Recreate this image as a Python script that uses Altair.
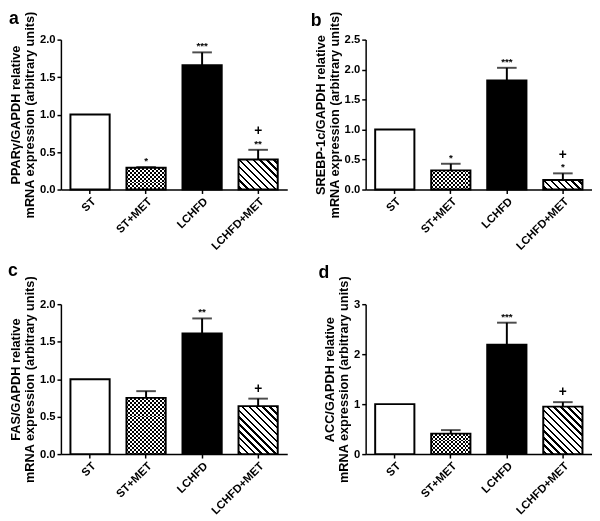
import altair as alt
import pandas as pd

groups = ["ST", "ST+MET", "LCHFD", "LCHFD+MET"]

ppar_mean = [1.00, 0.29, 1.66, 0.40]
ppar_upper = [None, 0.30, 1.83, 0.53]
ppar_stars = ["", "*", "***", "**"]
ppar_plus = ["", "", "", "+"]
ppar_ticks = [0.0, 0.5, 1.0, 1.5, 2.0]

srebp_mean = [1.00, 0.32, 1.82, 0.16]
srebp_upper = [None, 0.43, 2.03, 0.27]
srebp_stars = ["", "*", "***", "*"]
srebp_plus = ["", "", "", "+"]
srebp_ticks = [0.0, 0.5, 1.0, 1.5, 2.0, 2.5]

fas_mean = [1.00, 0.75, 1.61, 0.64]
fas_upper = [None, 0.84, 1.81, 0.74]
fas_stars = ["", "", "**", ""]
fas_plus = ["", "", "", "+"]
fas_ticks = [0.0, 0.5, 1.0, 1.5, 2.0]

acc_mean = [1.00, 0.41, 2.19, 0.95]
acc_upper = [None, 0.48, 2.63, 1.04]
acc_stars = ["", "", "***", ""]
acc_plus = ["", "", "", "+"]
acc_ticks = [0, 1, 2, 3]

FONT = "Liberation Sans"
W, H = 231, 153
PAD_IN, PAD_OUT = 0.30, 0.17
STEP = W / (len(groups) - PAD_IN + 2 * PAD_OUT)
BW = STEP * (1 - PAD_IN)


def stop(o, c):
    return alt.GradientStop(offset=round(min(max(o, 0), 1), 5), color=c)


def hatch_gradient(w, h, period=7.0, thick=2.4):
    L = w + h
    stops = [stop(0, "white")]
    c = 2.0
    while c < L:
        a, b = c / L, min((c + thick) / L, 1)
        stops += [stop(a, "white"), stop(a, "black"), stop(b, "black"), stop(b, "white")]
        c += period
    stops.append(stop(1, "white"))
    lam = (w + h) * w / (w * w + h * h)
    return alt.LinearGradient(gradient="linear", stops=stops, x1=0, y1=1,
                              x2=round(lam, 5), y2=round(1 - lam * h / w, 5))


def stripe_gradient(length, vertical, cell=2.0):
    stops = []
    pos, k = 0.0, 0
    while pos < length - 1e-6:
        col = "black" if k % 2 == 0 else "white"
        stops += [stop(pos / length, col), stop((pos + cell) / length, col)]
        pos += cell
        k += 1
    if vertical:
        return alt.LinearGradient(gradient="linear", stops=stops, x1=0, y1=0, x2=1, y2=0)
    return alt.LinearGradient(gradient="linear", stops=stops, x1=0, y1=0, x2=0, y2=1)


def panel(letter, lpos, title, mean, upper, stars, plus, ymax, ticks, fmt):
    df = pd.DataFrame({"group": groups, "mean": mean, "upper": upper,
                       "stars": stars, "plus": plus})
    xaxis = alt.Axis(title=None, labelAngle=-45)
    yaxis = alt.Axis(title=title, values=ticks, format=fmt)
    xs = alt.Scale(domain=groups, paddingInner=PAD_IN, paddingOuter=PAD_OUT)
    ys = alt.Scale(domain=[0, ymax], nice=False, zero=True)

    def X():
        return alt.X("group:N", sort=groups, scale=xs, axis=xaxis)

    def Y(f):
        return alt.Y(f, scale=ys, axis=yaxis)

    base = alt.Chart(df)
    fills = base.mark_bar(strokeWidth=0).encode(
        x=X(), y=Y("mean:Q"),
        fill=alt.Fill("group:N", scale=alt.Scale(domain=groups, range=["white", "white", "black", "white"]), legend=None))

    h_chk = mean[1] * H / ymax
    h_hat = mean[3] * H / ymax
    chk1 = base.transform_filter(alt.datum.group == "ST+MET").mark_bar(
        fill=stripe_gradient(BW, True), strokeWidth=0).encode(x=X(), y=Y("mean:Q"))
    chk2 = base.transform_filter(alt.datum.group == "ST+MET").mark_bar(
        fill=stripe_gradient(h_chk, False), strokeWidth=0, blend="difference").encode(x=X(), y=Y("mean:Q"))
    hatch = base.transform_filter(alt.datum.group == "LCHFD+MET").mark_bar(
        fill=hatch_gradient(BW, h_hat), strokeWidth=0).encode(x=X(), y=Y("mean:Q"))
    outline = base.mark_bar(fillOpacity=0, stroke="black", strokeWidth=2).encode(x=X(), y=Y("mean:Q"))

    valid = base.transform_filter("isValid(datum.upper)")
    rule = valid.mark_rule(color="black", strokeWidth=2).encode(x=X(), y=Y("mean:Q"), y2="upper:Q")
    cap = valid.mark_tick(color="black", orient="horizontal", size=20, thickness=2).encode(x=X(), y=Y("upper:Q"))

    st = valid.transform_filter(alt.datum.stars != "").mark_text(
        font=FONT, fontSize=10, fontWeight="bold", dy=-3, baseline="alphabetic", color="black").encode(
        x=X(), y=Y("upper:Q"), text="stars:N")
    p_hi = valid.transform_filter((alt.datum.plus != "") & (alt.datum.stars != "")).mark_text(
        font=FONT, fontSize=14, fontWeight="bold", dy=-15, baseline="alphabetic", color="black").encode(
        x=X(), y=Y("upper:Q"), text="plus:N")
    p_lo = valid.transform_filter((alt.datum.plus != "") & (alt.datum.stars == "")).mark_text(
        font=FONT, fontSize=14, fontWeight="bold", dy=-6, baseline="alphabetic", color="black").encode(
        x=X(), y=Y("upper:Q"), text="plus:N")

    lab = alt.Chart(pd.DataFrame({"t": [letter]})).mark_text(
        font=FONT, fontSize=18, fontWeight="bold", align="left", baseline="alphabetic", color="black").encode(
        x=alt.value(lpos[0]), y=alt.value(lpos[1]), text="t:N")

    return alt.layer(fills, chk1, chk2, hatch, outline, rule, cap, st, p_hi, p_lo, lab).properties(width=W, height=H)


pa = panel("a", (-53, -16), ["PPARγ/GAPDH relative", "mRNA expression (arbitrary units)"],
           ppar_mean, ppar_upper, ppar_stars, ppar_plus, 2.0, ppar_ticks, ".1f")
pb = panel("b", (-56, -14), ["SREBP-1c/GAPDH relative", "mRNA expression (arbitrary units)"],
           srebp_mean, srebp_upper, srebp_stars, srebp_plus, 2.5, srebp_ticks, ".1f")
pc = panel("c", (-54, -29), ["FAS/GAPDH relative", "mRNA expression (arbitrary units)"],
           fas_mean, fas_upper, fas_stars, fas_plus, 2.0, fas_ticks, ".1f")
pd_ = panel("d", (-48, -27), ["ACC/GAPDH relative", "mRNA expression (arbitrary units)"],
            acc_mean, acc_upper, acc_stars, acc_plus, 3.0, acc_ticks, "d")

chart = alt.concat(pa, pb, pc, pd_, columns=2, spacing={"row": 117, "column": 80}, bounds="flush").properties(
    padding={"left": 0, "top": -3, "right": 0, "bottom": 0}
).configure_view(stroke=None).configure_axis(
    domainColor="black", domainWidth=1.5, tickColor="black", tickWidth=1.5, tickSize=4,
    labelColor="black", labelFont=FONT, labelFontWeight="bold", labelFontSize=11.5, labelPadding=2,
    titleFont=FONT, titleFontWeight="bold", titleFontSize=13, titleColor="black",
    titleLineHeight=14, titlePadding=3, grid=False
).configure_axisX(labelFontSize=11.5)

chart.save("out.html", embed_options={"renderer": "svg", "actions": False})
